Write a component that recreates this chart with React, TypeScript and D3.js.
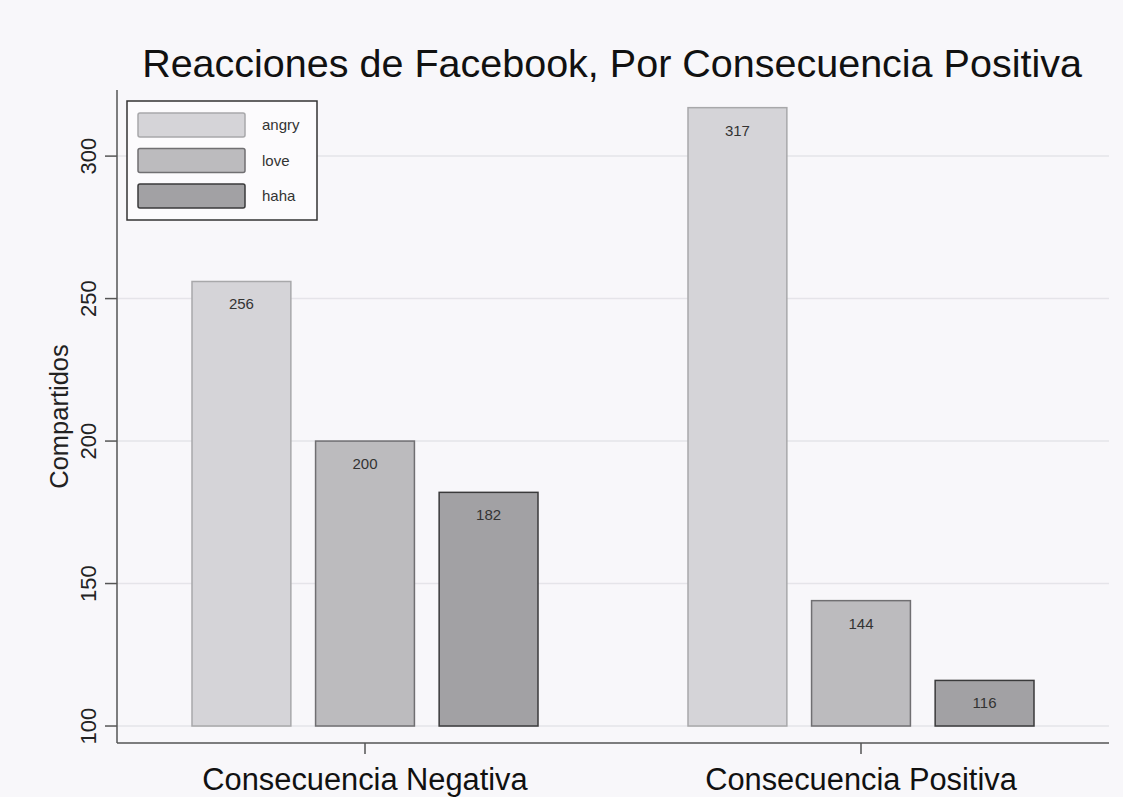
import { useEffect, useRef } from 'react';
import * as d3 from 'd3';

const groups: string[] = ['Consecuencia Negativa', 'Consecuencia Positiva'];
const series: string[] = ['angry', 'love', 'haha'];
const angryValues: number[] = [256, 317];
const loveValues: number[] = [200, 144];
const hahaValues: number[] = [182, 116];
const yTicks: number[] = [100, 150, 200, 250, 300];

const fills: string[] = ['#d5d4d8', '#bcbbbe', '#a2a1a4'];
const strokes: string[] = ['#a8a8aa', '#706f72', '#3a3a3b'];

export default function App() {
  const svgRef = useRef<SVGSVGElement>(null);
  const width = 1123;
  const height = 797;

  useEffect(() => {
    if (!svgRef.current) return;
    const svg = d3.select(svgRef.current);
    svg.selectAll('*').remove();

    const font = '"Liberation Sans", Arial, sans-serif';
    const plot = { left: 117, right: 1109, top: 90, bottom: 743 };

    svg.append('rect').attr('width', width).attr('height', height).attr('fill', '#f8f7fa');

    const x0 = d3.scalePoint<string>().domain(groups).range([plot.left, plot.right]).padding(0.5);
    const x1 = d3.scaleBand<string>().domain(series).range([-173, 173]).paddingInner(0.2);
    const y = d3.scaleLinear().domain([94.04, 323.2]).range([plot.bottom, plot.top]);

    // gridlines
    svg.append('g')
      .selectAll('line')
      .data(yTicks)
      .enter()
      .append('line')
      .attr('x1', plot.left)
      .attr('x2', plot.right)
      .attr('y1', d => y(d))
      .attr('y2', d => y(d))
      .attr('stroke', '#e5e4e9')
      .attr('stroke-width', 1.5);

    const table = groups.map((g, i) => ({
      group: g,
      values: [angryValues[i], loveValues[i], hahaValues[i]],
    }));

    const barGroups = svg.selectAll('.bar-group')
      .data(table)
      .enter()
      .append('g')
      .attr('class', 'bar-group')
      .attr('transform', d => `translate(${x0(d.group)},0)`);

    series.forEach((s, si) => {
      barGroups.append('rect')
        .attr('x', x1(s)!)
        .attr('y', d => y(d.values[si]))
        .attr('width', x1.bandwidth())
        .attr('height', d => y(100) - y(d.values[si]))
        .attr('fill', fills[si])
        .attr('stroke', strokes[si])
        .attr('stroke-width', 1.5);

      barGroups.append('text')
        .attr('x', x1(s)! + x1.bandwidth() / 2)
        .attr('y', d => y(d.values[si]) + 28)
        .attr('text-anchor', 'middle')
        .style('font-family', font)
        .style('font-size', '15px')
        .style('fill', '#333')
        .text(d => String(d.values[si]));
    });

    // y axis
    const yAxis = svg.append('g').attr('transform', `translate(${plot.left},0)`);
    yAxis.append('line')
      .attr('x1', 0).attr('x2', 0)
      .attr('y1', plot.top).attr('y2', plot.bottom)
      .attr('stroke', '#555').attr('stroke-width', 1.5);
    yAxis.selectAll('.tick')
      .data(yTicks)
      .enter()
      .append('line')
      .attr('x1', -12).attr('x2', 0)
      .attr('y1', d => y(d)).attr('y2', d => y(d))
      .attr('stroke', '#555').attr('stroke-width', 1.5);
    yAxis.selectAll('text')
      .data(yTicks)
      .enter()
      .append('text')
      .attr('transform', d => `translate(-21,${y(d)}) rotate(-90)`)
      .attr('text-anchor', 'middle')
      .style('font-family', font)
      .style('font-size', '22px')
      .style('fill', '#222')
      .text(d => String(d));

    svg.append('text')
      .attr('transform', `translate(68,${(plot.top + plot.bottom) / 2}) rotate(-90)`)
      .attr('text-anchor', 'middle')
      .style('font-family', font)
      .style('font-size', '25.5px')
      .style('fill', '#222')
      .text('Compartidos');

    // x axis
    const xAxis = svg.append('g').attr('transform', `translate(0,${plot.bottom})`);
    xAxis.append('line')
      .attr('x1', plot.left).attr('x2', plot.right)
      .attr('stroke', '#555').attr('stroke-width', 1.5);
    xAxis.selectAll('.tick')
      .data(groups)
      .enter()
      .append('line')
      .attr('x1', d => x0(d)!).attr('x2', d => x0(d)!)
      .attr('y1', 0).attr('y2', 11)
      .attr('stroke', '#555').attr('stroke-width', 1.5);
    xAxis.selectAll('text')
      .data(groups)
      .enter()
      .append('text')
      .attr('x', d => x0(d)!)
      .attr('y', 47)
      .attr('text-anchor', 'middle')
      .style('font-family', font)
      .style('font-size', '30.8px')
      .style('fill', '#111')
      .text(d => d);

    // title
    svg.append('text')
      .attr('x', 612)
      .attr('y', 77)
      .attr('text-anchor', 'middle')
      .style('font-family', font)
      .style('font-size', '39.5px')
      .style('fill', '#111')
      .text('Reacciones de Facebook, Por Consecuencia Positiva');

    // legend
    const legend = svg.append('g').attr('transform', 'translate(127,101)');
    legend.append('rect')
      .attr('width', 190).attr('height', 119)
      .attr('fill', '#fcfbfd').attr('stroke', '#333').attr('stroke-width', 1.5);
    series.forEach((s, i) => {
      const row = legend.append('g').attr('transform', `translate(11,${12 + i * 35.5})`);
      row.append('rect')
        .attr('width', 107).attr('height', 24).attr('rx', 2)
        .attr('fill', fills[i]).attr('stroke', strokes[i]).attr('stroke-width', 1.5);
      row.append('text')
        .attr('x', 124).attr('y', 12).attr('dy', '0.35em')
        .style('font-family', font)
        .style('font-size', '15px')
        .style('fill', '#333')
        .text(s);
    });
  }, []);

  return (
    <div style={{ position: 'fixed', left: 0, top: 0 }}>
      <svg ref={svgRef} width={width} height={height} style={{ display: 'block' }} />
    </div>
  );
}
